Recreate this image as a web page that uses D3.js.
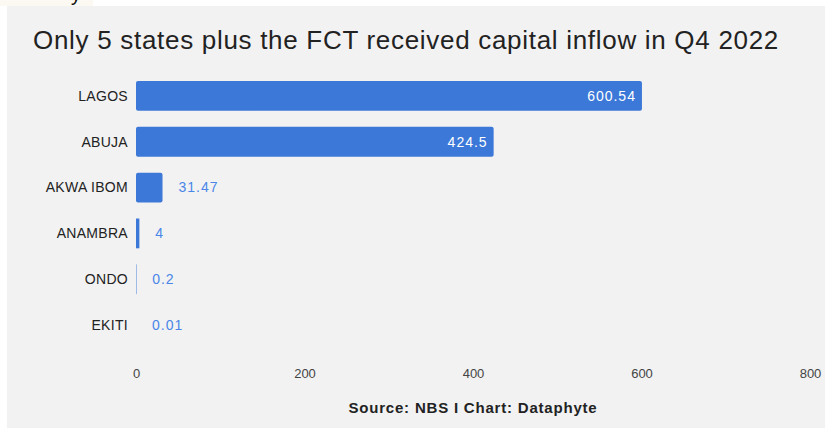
<!DOCTYPE html>
<html>
<head>
<meta charset="utf-8">
<script src="https://cdn.jsdelivr.net/npm/d3@7"></script>
<style>
  body { margin: 0; background: #fff; }
  svg { display: block; }
</style>
</head>
<body>
<svg id="chart" width="825" height="428"></svg>
<script>

// Data
const states = ["LAGOS", "ABUJA", "AKWA IBOM", "ANAMBRA", "ONDO", "EKITI"];
const inflow = [600.54, 424.5, 31.47, 4, 0.2, 0.01];
const valueLabels = ["600.54", "424.5", "31.47", "4", "0.2", "0.01"];
const xTicks = [0, 200, 400, 600, 800];

const titleText = "Only 5 states plus the FCT received capital inflow in Q4 2022";
const sourceText = "Source: NBS I Chart: Dataphyte";

const svg = d3.select("#chart");
const font = "'Liberation Sans', Arial, sans-serif";

// Top-left scrap from the screenshot
svg.append("rect").attr("x", 0).attr("y", 0).attr("width", 93).attr("height", 6).attr("fill", "#fbf9f1");
svg.append("text").attr("x", 71).attr("y", 1).style("font", `20px ${font}`).attr("fill", "#111").text("y");

// Panel
svg.append("rect")
    .attr("x", 7).attr("y", 6)
    .attr("width", 818).attr("height", 422)
    .attr("fill", "#f2f2f2");

// Title
svg.append("text")
    .attr("x", 33).attr("y", 49)
    .style("font", `26px ${font}`)
    .style("letter-spacing", "0.7px")
    .attr("fill", "#222")
    .text(titleText);

// Scales
const x = d3.scaleLinear().domain([0, 800]).range([136, 810]);
const y = d3.scaleBand().domain(states).range([65, 356]).paddingInner(0.35).paddingOuter(0.35);

// Category labels
svg.append("g")
    .selectAll("text")
    .data(states)
    .join("text")
    .attr("x", 128)
    .attr("y", d => y(d) + y.bandwidth() / 2)
    .attr("dy", "0.35em")
    .attr("text-anchor", "end")
    .style("font", `14px ${font}`)
    .style("letter-spacing", "0.3px")
    .attr("fill", "#222")
    .text(d => d);

// Bars (very thin bars get a hairline, like the original renderer)
const rows = states.map((s, i) => ({state: s, value: inflow[i], label: valueLabels[i]}));
const barW = v => x(v) - x(0);

svg.append("g")
    .selectAll("rect")
    .data(rows)
    .join("rect")
    .attr("x", x(0))
    .attr("y", d => y(d.state))
    .attr("width", d => (barW(d.value) < 1 && d.value >= 0.1) ? 1 : barW(d.value))
    .attr("height", y.bandwidth())
    .attr("rx", d => barW(d.value) > 6 ? 2 : 0)
    .attr("fill", "#3c78d8")
    .attr("opacity", d => barW(d.value) < 1 ? 0.45 : 1);

// Value labels
svg.append("g")
    .selectAll("text")
    .data(rows)
    .join("text")
    .attr("x", d => d.value > 100 ? x(d.value) - 6 : x(d.value) + 16)
    .attr("y", d => y(d.state) + y.bandwidth() / 2)
    .attr("dy", "0.35em")
    .attr("text-anchor", d => d.value > 100 ? "end" : "start")
    .style("font", `14px ${font}`)
    .style("letter-spacing", "1px")
    .attr("fill", d => d.value > 100 ? "#ffffff" : "#4a86e8")
    .text(d => d.label);

// X axis (labels only)
const xAxis = svg.append("g")
    .attr("transform", "translate(0, 369)")
    .call(d3.axisBottom(x).tickValues(xTicks).tickSize(0).tickPadding(0));
xAxis.select(".domain").remove();
xAxis.selectAll("text")
    .style("font", `13px ${font}`)
    .attr("fill", "#444");

// Source
svg.append("text")
    .attr("x", 473).attr("y", 413)
    .attr("text-anchor", "middle")
    .style("font", `bold 15px ${font}`)
    .style("letter-spacing", "0.8px")
    .attr("fill", "#222")
    .text(sourceText);

</script>
</body>
</html>
